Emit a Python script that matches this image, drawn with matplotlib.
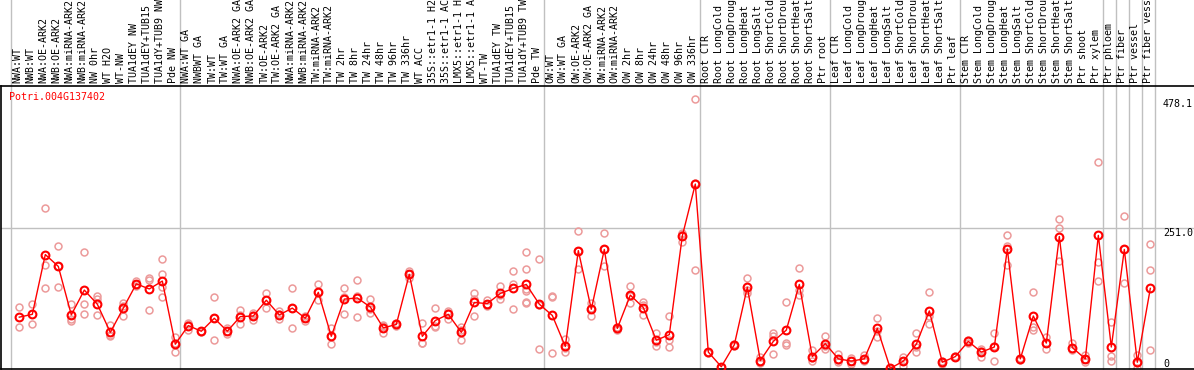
import matplotlib.pyplot as plt
import matplotlib.transforms as mtrans
import numpy as np

gene = "Potri.004G137402"

labels = [
    "NWA:WT", "NWB:WT", "NWA:OE-ARK2", "NWB:OE-ARK2", "NWA:miRNA-ARK2", "NWB:miRNA-ARK2",
    "NW 0hr", "WT H2O", "WT-NW", "TUA1dEY NW", "TUA1dEY+TUB15 NW", "TUA1dY+TUB9 NW", "Pde NW",
    "NWA:WT GA", "NWBWT GA", "TW:WT", "TW:WT GA", "NWA:OE-ARK2 GA", "NWB:OE-ARK2 GA",
    "TW:OE-ARK2", "TW:OE-ARK2 GA", "NWA:miRNA-ARK2 GA", "NWB:miRNA-ARK2 GA", "TW:miRNA-ARK2",
    "TW:miRNA-ARK2 GA", "TW 2hr", "TW 8hr", "TW 24hr", "TW 48hr", "TW 96hr", "TW 336hr",
    "WT ACC", "35S::etr1-1 H2O", "35S::etr1-1 ACC", "LMX5::etr1-1 H2O", "LMX5::etr1-1 ACC",
    "WT-TW", "TUA1dEY TW", "TUA1dEY+TUB15 TW", "TUA1dY+TUB9 TW", "Pde TW",
    "OW:WT", "OW:WT GA", "OW:OE-ARK2", "OW:OE-ARK2 GA", "OW:miRNA-ARK2", "OW:miRNA-ARK2 GA",
    "OW 2hr", "OW 8hr", "OW 24hr", "OW 48hr", "OW 96hr", "OW 336hr",
    "Root CTR", "Root LongCold", "Root LongDrought", "Root LongHeat", "Root LongSalt",
    "Root ShortCold", "Root ShortDrought", "Root ShortHeat", "Root ShortSalt", "Ptr root",
    "Leaf CTR", "Leaf LongCold", "Leaf LongDrought", "Leaf LongHeat", "Leaf LongSalt",
    "Leaf ShortCold", "Leaf ShortDrought", "Leaf ShortHeat", "Leaf ShortSalt", "Ptr leaf",
    "Stem CTR", "Stem LongCold", "Stem LongDrought", "Stem LongHeat", "Stem LongSalt",
    "Stem ShortCold", "Stem ShortDrought", "Stem ShortHeat", "Stem ShortSalt", "Ptr shoot",
    "Ptr xylem", "Ptr phloem", "Ptr fiber", "Ptr vessel", "Ptr fiber vessel",
]

means = [
    92, 97, 203, 182, 96, 140, 115, 65, 108, 151, 142, 156, 44,
    77, 67, 90, 67, 93, 94, 122, 96, 108, 90, 136, 58, 124, 126, 110, 73, 79, 168,
    58, 86, 97, 65, 118, 116, 134, 143, 150, 115,
    95, 40, 210, 106, 212, 72, 131, 109, 51, 61, 236, 328,
    30, 4, 43, 145, 15, 49, 69, 150, 22, 45,
    18, 14, 18, 72, 1, 14, 44, 103, 12, 22,
    49, 30, 39, 213, 18, 94, 46, 235, 38, 18, 237,
    39, 212, 12, 143,
]

reps = [
    [110, 74], [115, 79], [285, 184, 144], [219, 145, 182], [115, 85, 88],
    [207, 115, 97], [130, 124, 96], [78, 58, 60], [117, 94, 112], [156, 150, 148],
    [162, 158, 105], [195, 168, 146, 127], [56, 31, 46],
    [82, 69, 80], [67, 66], [128, 51, 91], [72, 62, 68], [104, 80, 96], [100, 87, 95],
    [135, 108, 123], [102, 89, 97], [143, 72, 109], [94, 86, 90], [150, 122, 136],
    [73, 44, 58], [143, 128, 98], [157, 92, 129], [125, 99, 107], [78, 64, 76],
    [81, 77, 79], [174, 168, 162], [81, 47, 46], [108, 75, 76], [102, 88, 100],
    [75, 51, 69], [135, 94, 124], [122, 112, 115], [147, 124, 131], [173, 150, 106],
    [208, 177, 142, 138, 118, 117], [196, 36, 113],
    [128, 28, 129], [53, 30, 38], [244, 177, 210], [117, 94, 108], [241, 183, 213],
    [75, 70, 71], [147, 117, 129], [119, 95, 114], [64, 41, 48], [94, 51, 39],
    [240, 226, 242], [478.1, 330, 175],
    [31, 29], [4, 3], [44, 41], [161, 134, 140], [22, 14, 10], [63, 58, 27],
    [118, 47, 43], [179, 131, 140], [33, 14, 20], [58, 36, 41],
    [26, 13, 16], [8, 15, 19], [24, 16, 15], [90, 57, 68], [1, 0.5], [22, 5, 14],
    [63, 30, 39], [136, 79, 94], [12, 8, 15], [22, 23],
    [51, 47], [32, 22, 35], [63, 14, 40], [237, 218, 184], [18, 19, 16],
    [136, 75, 70], [57, 35, 46], [266, 251, 191], [47, 33, 36], [24, 12, 18],
    [366.7, 189, 156],
    [83, 23, 15], [271, 153, 212], [25, 1, 11], [221, 175, 33],
]

group_ends = [-1, 12, 40, 52, 62, 72, 83, 84, 85, 86, 87]
y_ticks = [478.1, 251.0, 0]

W, H = 1194, 370
mono = "DejaVu Sans Mono"
fig = plt.figure(figsize=(W / 100, H / 100), dpi=100)
ax = fig.add_axes([1 / W, 1 / H, (W - 1) / W, 283 / H])

x = np.arange(len(means))
ymax = max(max(r) for r in reps) * 1.05
ax.set_xlim(-1.408, 90.36)
ax.set_ylim(0, ymax)

# separators and grid
for g in group_ends:
    ax.axvline(g + 0.36, 0, 1.31, color="#c0c0c0", lw=1, clip_on=False, zorder=0)
ax.axhline(y_ticks[1], color="#c0c0c0", lw=1, zorder=0)

# replicate points
for i, r in enumerate(reps):
    ax.plot([i] * len(r), r, "o", ms=5, mfc="none", mec="#ec9a9a", mew=1.1, zorder=2)

ax.plot(x, means, "-", color="red", lw=1, zorder=3)
ax.plot(x, means, "o", ms=5.6, mfc="none", mec="red", mew=1.5, zorder=4)

for sp in ["left", "bottom", "top"]:
    ax.spines[sp].set_color("black")
    ax.spines[sp].set_linewidth(1.2)
ax.spines["right"].set_visible(False)
ax.set_xticks([])
ax.set_yticks([])

# column labels above the plot
tr = mtrans.blended_transform_factory(ax.transData, ax.transAxes)
for i, lab in enumerate(labels):
    ax.text(i - 0.15, 1.012, lab[:14], rotation=90, ha="center", va="bottom",
            fontsize=7.2, family=mono, transform=tr, clip_on=False)

# value labels on the right
tr2 = mtrans.blended_transform_factory(ax.transAxes, ax.transData)
for v in y_ticks:
    ax.text(0.974, v, f"{v:.1f}" if v else "0", ha="left",
            va="top" if v else "bottom", fontsize=7.2, family=mono, transform=tr2)

fig.text(9 / W, 1 - 97 / H, gene, color="red", fontsize=7.2, family=mono, va="center")

fig.savefig("out.png", dpi=100)
